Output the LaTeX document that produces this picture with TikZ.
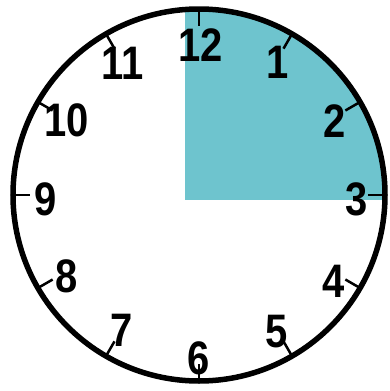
\documentclass[tikz,border=0pt]{standalone}
\usepackage{fontspec}
\newfontfamily\clockfont[FakeStretch=0.85]{Liberation Sans}
\usepackage{xcolor}
\usepackage{tikz}
\usetikzlibrary{calc}

\definecolor{quarterteal}{RGB}{110,196,206}

\begin{document}
\begin{tikzpicture}[
    x=1pt, y=-1pt,
    hour/.style={inner sep=0pt, font=\clockfont\bfseries\fontsize{47}{47}\selectfont},
    rim/.style={line width=5.5pt},
    tick/.style={line width=2.5pt}
]
\useasboundingbox (0,0) rectangle (390,391);

% clock centre
\coordinate (c) at (199,195);

% shaded quarter: 12 to 3
\begin{scope}
\clip (c) circle (186);
\fill[quarterteal] (185,200) rectangle (392,-2);
\end{scope}

% face and hour ticks
\draw[rim] (c) circle (186);
\foreach \a in {0,30,...,330}
  \draw[tick] ($(c)+(\a:186)$) -- ($(c)+(\a:169)$);

% hour numbers
\foreach \n/\x/\y in {12/201/45, 1/278/62, 2/335/121, 3/357/199,
                      4/334/281, 5/277/332, 6/199/358, 7/122/330,
                      8/67/276, 9/46/199, 10/67/120, 11/123/63}
  \node[hour] (h\n) at (\x,\y) {\n};

\end{tikzpicture}
\end{document}
